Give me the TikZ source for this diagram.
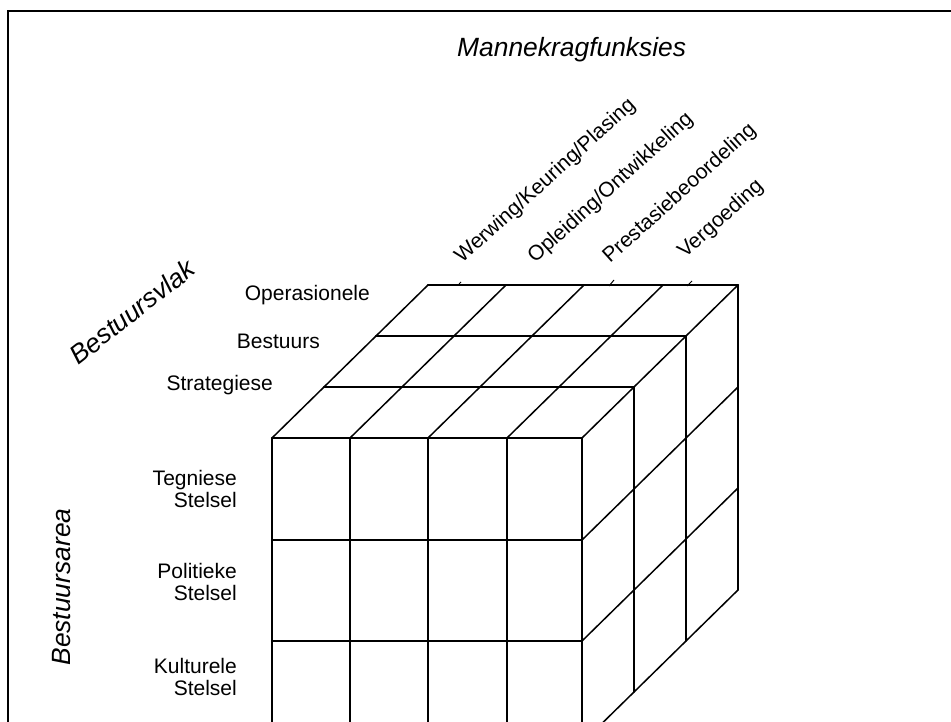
\documentclass[tikz,border=0pt]{standalone}
\usepackage{fontspec}
\setmainfont{Liberation Sans}
\begin{document}
\begin{tikzpicture}[x=1pt,y=-1pt,
  thin grid/.style={line width=1.5pt, line cap=round, line join=round},
  thick grid/.style={line width=2.2pt, line cap=round, line join=round},
  lbl/.style={inner sep=0pt, font=\fontsize{21}{21.5}\selectfont},
  axis/.style={inner sep=0pt, font=\fontsize{26.4}{28}\selectfont\itshape},
  col/.style={lbl, anchor=base west, rotate=42}]
\useasboundingbox (0,0) rectangle (951,722);
\clip (0,0) rectangle (951,722);

% frame
\draw[line width=2pt] (8,722) -- (8,11) -- (951,11);

% front face
\foreach \x in {272,350,428,507,582}
  \draw[thin grid] (\x,438) -- (\x,745);
\foreach \y in {438,540,641}
  \draw[thick grid] (272,\y) -- (582,\y);

% top face: rows in depth and column edges
\foreach \k in {1,2,3}
  \draw[thick grid] (272+52*\k,438-51*\k) -- (582+52*\k,438-51*\k);
\foreach \x in {272,350,428,507,582}
  \draw[thin grid] (\x,438) -- ++(156,-153);

% right face
\foreach \k in {1,2,3}
  \draw[thin grid] (582+52*\k,438-51*\k) -- (582+52*\k,743-51*\k);
\foreach \y in {540,641,743}
  \draw[thin grid] (582,\y) -- ++(156,-153);

% small leader ticks above the back edge
\draw[line width=1pt] (459,284) -- (461,282);
\draw[line width=1pt] (609,286) -- (614,280);
\draw[line width=1pt] (687,286) -- (692,281);

% axis titles
\node[axis, anchor=base west] (title) at (457,57) {Mannekragfunksies};
\node[axis, anchor=base west, rotate=38] (vlak) at (78,366) {Bestuursvlak};
\node[axis, rotate=90] (area) at (62,587) {Bestuursarea};

% management levels
\node[lbl, anchor=mid east] (op) at (370,298) {Operasionele};
\node[lbl, anchor=mid east] (be) at (320,346) {Bestuurs};
\node[lbl, anchor=mid east] (st) at (273,388) {Strategiese};

% management areas
\node[lbl, align=right, anchor=east] (teg) at (237,489) {Tegniese\\Stelsel};
\node[lbl, align=right, anchor=east] (pol) at (237,582) {Politieke\\Stelsel};
\node[lbl, align=right, anchor=east] (kul) at (237,677) {Kulturele\\Stelsel};

% manpower functions
\node[col] (werw) at (462,264) {Werwing/Keuring/Plasing};
\node[col] (ople) at (535,264) {Opleiding/Ontwikkeling};
\node[col] (pres) at (610,264) {Prestasiebeoordeling};
\node[col] (verg) at (685,259) {Vergoeding};
\end{tikzpicture}
\end{document}
